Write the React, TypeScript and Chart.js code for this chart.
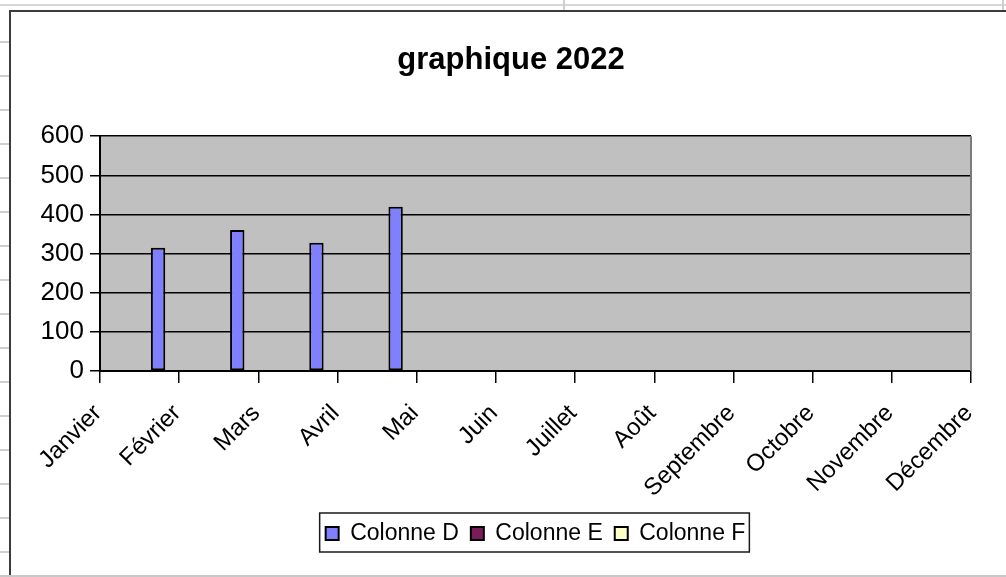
import { useEffect, useRef } from "react";
import { Chart, registerables } from "chart.js";

Chart.register(...registerables);

const TITLE = "graphique 2022";
const MONTHS = [
  "Janvier", "Février", "Mars", "Avril", "Mai", "Juin",
  "Juillet", "Août", "Septembre", "Octobre", "Novembre", "Décembre",
];
const COLONNE_D: (number | null)[] = [null, 315, 360, 328, 420, 0, 0, 0, 0, 0, 0, 0];
const COLONNE_E: (number | null)[] = [null, null, null, null, null, null, null, null, null, null, null, null];
const COLONNE_F: (number | null)[] = [null, null, null, null, null, null, null, null, null, null, null, null];
const SERIES_LABELS = ["Colonne D", "Colonne E", "Colonne F"];
const Y_MIN = 0;
const Y_MAX = 600;
const Y_STEP = 100;

const FONT = "'Liberation Sans', Arial, Helvetica, sans-serif";

const plotBackground = {
  id: "plotBackground",
  afterLayout(chart: any) {
    // centre the title where the original places it
    if (chart.titleBlock) chart.titleBlock.left = 39;
  },
  beforeDraw(chart: any) {
    const { ctx, chartArea } = chart;
    if (!chartArea) return;
    ctx.save();
    ctx.fillStyle = "#c0c0c0";
    ctx.fillRect(chartArea.left, chartArea.top, chartArea.right - chartArea.left, chartArea.bottom - chartArea.top);
    ctx.restore();
  },
  afterDraw(chart: any) {
    const { ctx, chartArea } = chart;
    if (!chartArea) return;
    ctx.save();
    ctx.strokeStyle = "#7a7a7a";
    ctx.lineWidth = 2;
    ctx.beginPath();
    ctx.moveTo(chartArea.right, chartArea.top);
    ctx.lineTo(chartArea.right, chartArea.bottom);
    ctx.stroke();
    ctx.restore();
  },
};

const legendFrame = {
  id: "legendFrame",
  afterDraw(chart: any) {
    const lg = chart.legend;
    if (!lg || !lg.legendHitBoxes || !lg.legendHitBoxes.length) return;
    const hb = lg.legendHitBoxes;
    const first = hb[0];
    const last = hb[hb.length - 1];
    const left = first.left - 6;
    const right = last.left + last.width + 4;
    const top = first.top - 9;
    const bottom = first.top + first.height + 7;
    const { ctx } = chart;
    ctx.save();
    ctx.strokeStyle = "#1a1a1a";
    ctx.lineWidth = 1.5;
    ctx.strokeRect(left, top, right - left, bottom - top);
    ctx.restore();
  },
};

export default function App() {
  const canvasRef = useRef<HTMLCanvasElement | null>(null);

  useEffect(() => {
    if (!canvasRef.current) return;
    Chart.defaults.font.family = FONT;
    const colors = ["#8080ff", "#7b1c5a", "#ffffc8"];
    const seriesData = [COLONNE_D, COLONNE_E, COLONNE_F];
    const chart = new Chart(canvasRef.current, {
      type: "bar",
      data: {
        labels: MONTHS,
        datasets: seriesData.map((d, i) => ({
          label: SERIES_LABELS[i],
          data: d,
          backgroundColor: colors[i],
          borderColor: "#000",
          borderWidth: 2,
          borderSkipped: false,
          categoryPercentage: 0.8,
          barPercentage: 0.68,
        })),
      },
      options: {
        responsive: false,
        animation: false,
        layout: { padding: { left: 0, right: 34, top: 0, bottom: 22 } },
        plugins: {
          title: {
            display: true,
            text: TITLE,
            color: "#000",
            font: { size: 31, weight: "bold", family: FONT },
            padding: { top: 30, bottom: 57 },
          },
          legend: {
            position: "bottom",
            fullSize: false,
            labels: {
              boxWidth: 13,
              boxHeight: 13,
              padding: 12,
              color: "#000",
              font: { size: 23, family: FONT },
            },
          },
          tooltip: { enabled: false },
        },
        scales: {
          x: {
            type: "category",
            offset: false,
            grid: {
              offset: false,
              drawOnChartArea: false,
              drawTicks: true,
              tickLength: 12,
              color: "#000",
              lineWidth: 1.5,
            },
            border: { display: true, color: "#000", width: 2 },
            ticks: {
              autoSkip: false,
              maxRotation: 45,
              minRotation: 45,
              padding: 18,
              labelOffset: -2,
              color: "#000",
              font: { size: 24, lineHeight: 1, family: FONT },
            },
            afterFit: (s: any) => {
              s.height = 139;
            },
          },
          y: {
            min: Y_MIN,
            max: Y_MAX,
            ticks: {
              stepSize: Y_STEP,
              padding: 6,
              color: "#000",
              font: { size: 26, family: FONT },
            },
            grid: { color: "#000", lineWidth: 1.5, tickLength: 10 },
            border: { display: true, color: "#000", width: 2 },
            afterFit: (s: any) => {
              s.width = 89;
            },
          },
        },
      } as any,
      plugins: [plotBackground, legendFrame],
    });
    return () => chart.destroy();
  }, []);

  const rowTicks: number[] = [];
  for (let y = 41; y < 577; y += 34) rowTicks.push(y);

  return (
    <div style={{ position: "fixed", left: 0, top: 0, width: 1006, height: 577, overflow: "hidden", background: "#fff" }}>
      <div style={{ position: "absolute", left: 0, top: 4, width: 1006, height: 2, background: "#d6d6d6" }} />
      <div style={{ position: "absolute", left: 563, top: 0, width: 2, height: 10, background: "#cfcfcf" }} />
      <div style={{ position: "absolute", left: 1002, top: 0, width: 2, height: 10, background: "#cfcfcf" }} />
      {rowTicks.map((y) => (
        <div key={y} style={{ position: "absolute", left: 0, top: y, width: 9, height: 2, background: "#cfcfcf" }} />
      ))}
      <div
        style={{
          position: "absolute",
          left: 9,
          top: 10,
          width: 997,
          height: 567,
          boxSizing: "border-box",
          borderLeft: "2px solid #3c3c3c",
          borderTop: "2px solid #3c3c3c",
        }}
      >
        <canvas ref={canvasRef} width={995} height={565} style={{ display: "block" }} />
      </div>
      <div style={{ position: "absolute", left: 0, top: 575, width: 1006, height: 2, background: "#c8c8c8" }} />
    </div>
  );
}
